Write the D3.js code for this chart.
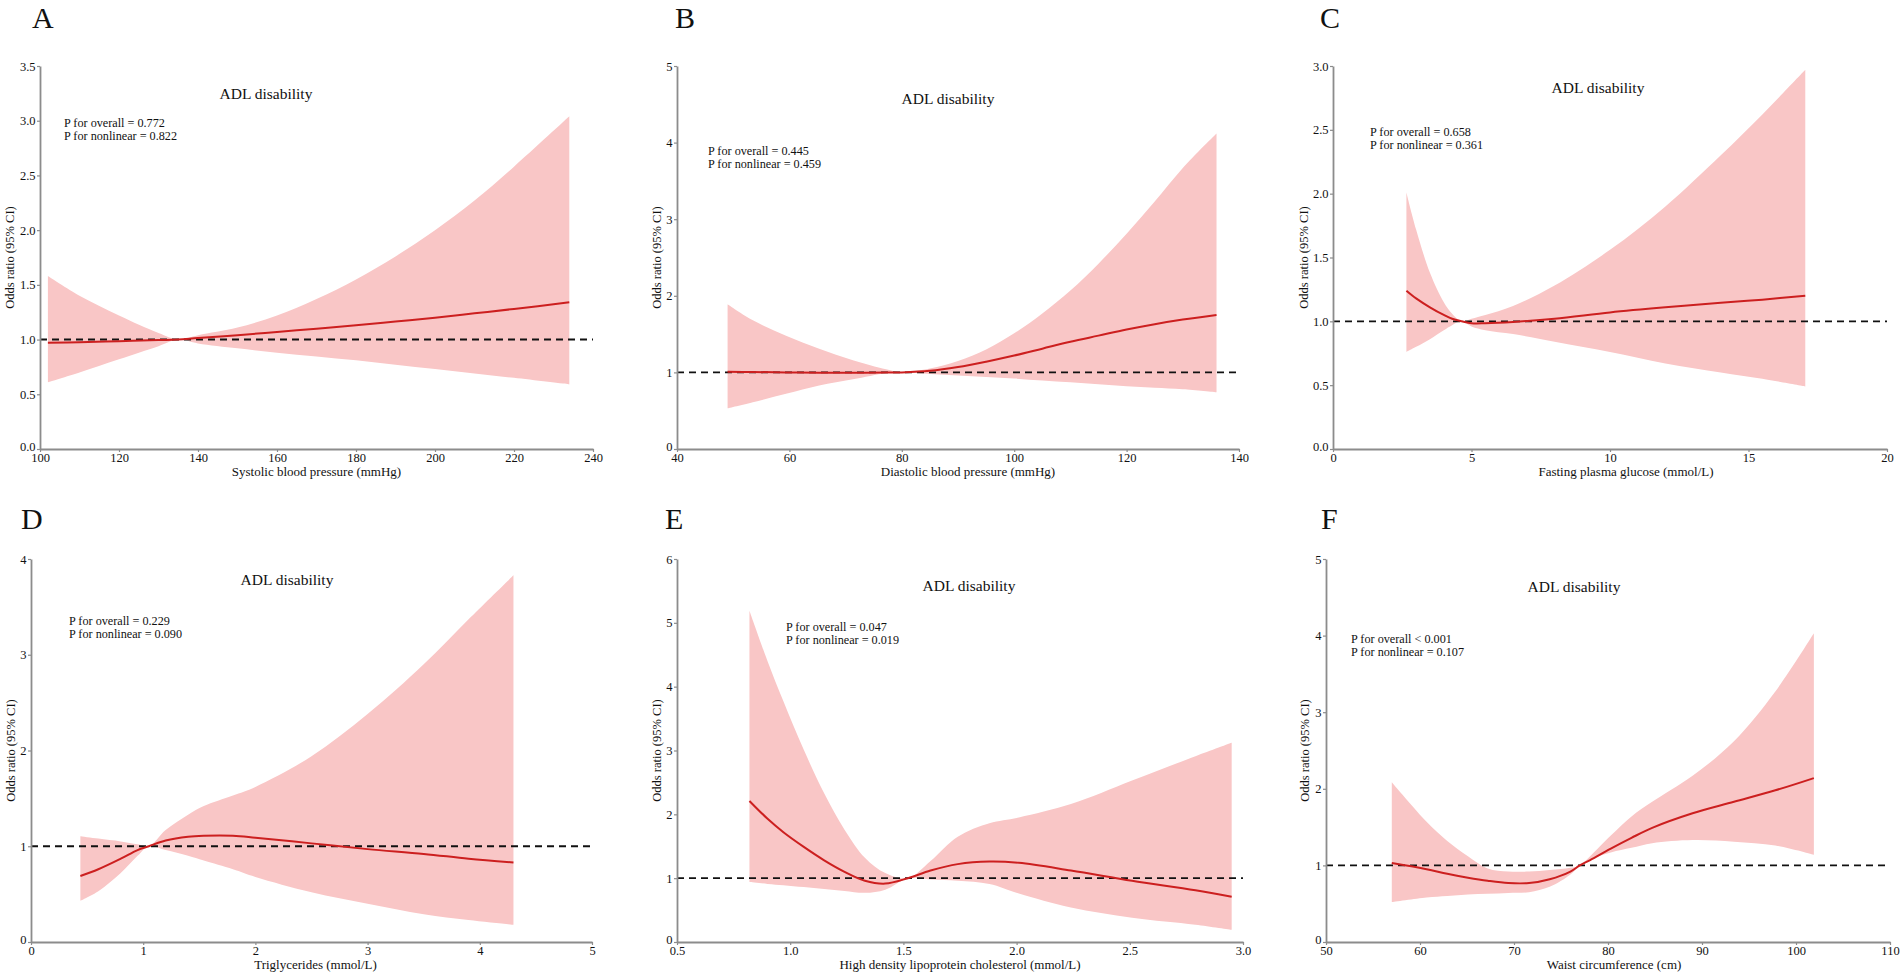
<!DOCTYPE html>
<html><head><meta charset="utf-8">
<script src="https://cdn.jsdelivr.net/npm/d3@7"></script>
<style>
body{margin:0;background:#fff}
svg{display:block}
text{font-family:"Liberation Serif","Times New Roman",serif;fill:#111}
</style>
</head><body>
<svg id="chart" width="1902" height="979"></svg>
<script>
// ---------- DATA ----------
const titleText = "ADL disability";
const yAxisLabel = "Odds ratio (95% CI)";

// Panel A – Systolic blood pressure
const xA  = [102, 110, 120, 130, 135, 140, 150, 160, 170, 180, 190, 200, 210, 220, 234];
const hiA = [1.58, 1.40, 1.22, 1.06, 1.0, 1.04, 1.11, 1.22, 1.37, 1.55, 1.76, 2.00, 2.27, 2.58, 3.04];
const loA = [0.61, 0.70, 0.82, 0.94, 1.0, 0.965, 0.92, 0.88, 0.845, 0.81, 0.77, 0.73, 0.69, 0.65, 0.59];
const orA = [0.97, 0.975, 0.985, 0.995, 1.0, 1.015, 1.04, 1.07, 1.10, 1.13, 1.165, 1.20, 1.24, 1.28, 1.34];
const xTicksA = [100, 120, 140, 160, 180, 200, 220, 240];
const yTicksA = [0, 0.5, 1.0, 1.5, 2.0, 2.5, 3.0, 3.5];

// Panel B – Diastolic blood pressure
const xB  = [49, 53.5, 59.4, 65.3, 71.3, 77.2, 80, 85, 90, 95, 100, 105, 110, 115, 120, 125, 130, 136];
const hiB = [1.89, 1.68, 1.48, 1.31, 1.16, 1.04, 1.0, 1.05, 1.15, 1.30, 1.51, 1.77, 2.07, 2.42, 2.81, 3.23, 3.67, 4.12];
const loB = [0.53, 0.61, 0.72, 0.83, 0.91, 0.99, 1.0, 0.98, 0.96, 0.94, 0.92, 0.895, 0.87, 0.845, 0.82, 0.80, 0.78, 0.74];
const orB = [1.01, 1.005, 1.0, 0.995, 0.995, 0.998, 1.0, 1.02, 1.07, 1.14, 1.22, 1.31, 1.40, 1.48, 1.56, 1.63, 1.69, 1.75];
const xTicksB = [40, 60, 80, 100, 120, 140];
const yTicksB = [0, 1, 2, 3, 4, 5];

// Panel C – Fasting plasma glucose
const xC  = [2.65, 3.0, 3.5, 4.0, 4.3, 4.65, 5.0, 5.5, 6.5, 8, 10, 12, 14, 15.5, 17.05];
const hiC = [2.01, 1.72, 1.38, 1.15, 1.06, 1.0, 1.02, 1.05, 1.12, 1.28, 1.56, 1.90, 2.30, 2.62, 2.97];
const loC = [0.76, 0.80, 0.86, 0.93, 0.97, 1.0, 0.96, 0.93, 0.90, 0.84, 0.76, 0.67, 0.60, 0.55, 0.49];
const orC = [1.24, 1.18, 1.11, 1.05, 1.02, 1.0, 0.985, 0.985, 0.995, 1.02, 1.07, 1.11, 1.145, 1.17, 1.20];
const xTicksC = [0, 5, 10, 15, 20];
const yTicksC = [0, 0.5, 1.0, 1.5, 2.0, 2.5, 3.0];

// Panel D – Triglycerides
const xD  = [0.44, 0.6, 0.8, 0.95, 1.05, 1.2, 1.4, 1.54, 1.8, 2.0, 2.5, 3.0, 3.5, 3.9, 4.3];
const hiD = [1.105, 1.08, 1.05, 1.02, 1.0, 1.17, 1.33, 1.42, 1.53, 1.62, 1.94, 2.38, 2.90, 3.37, 3.83];
const loD = [0.43, 0.53, 0.72, 0.90, 1.0, 0.96, 0.90, 0.85, 0.76, 0.68, 0.52, 0.40, 0.29, 0.23, 0.18];
const orD = [0.69, 0.76, 0.87, 0.96, 1.0, 1.06, 1.10, 1.11, 1.11, 1.09, 1.03, 0.97, 0.92, 0.87, 0.83];
const xTicksD = [0, 1, 2, 3, 4, 5];
const yTicksD = [0, 1, 2, 3, 4];

// Panel E – HDL cholesterol
const xE  = [0.82, 0.9, 0.97, 1.06, 1.15, 1.24, 1.33, 1.42, 1.52, 1.62, 1.74, 1.88, 2.01, 2.24, 2.51, 2.79, 2.95];
const hiE = [5.19, 4.40, 3.77, 3.01, 2.33, 1.76, 1.32, 1.08, 1.0, 1.27, 1.65, 1.86, 1.95, 2.16, 2.53, 2.91, 3.12];
const loE = [0.94, 0.91, 0.89, 0.86, 0.83, 0.80, 0.77, 0.82, 1.0, 0.98, 0.96, 0.91, 0.76, 0.54, 0.38, 0.27, 0.19];
const orE = [2.21, 1.93, 1.72, 1.49, 1.28, 1.10, 0.96, 0.915, 1.0, 1.12, 1.22, 1.26, 1.24, 1.12, 0.96, 0.81, 0.71];
const xTicksE = [0.5, 1.0, 1.5, 2.0, 2.5, 3.0];
const yTicksE = [0, 1, 2, 3, 4, 5, 6];

// Panel F – Waist circumference
const xF  = [57, 60.7, 62.9, 65.1, 67.2, 69.4, 71.6, 73.8, 76, 77, 78.1, 80.3, 82.5, 84.7, 89, 93.4, 97.8, 101.9];
const hiF = [2.085, 1.57, 1.32, 1.12, 0.96, 0.92, 0.92, 0.94, 0.97, 1.0, 1.12, 1.39, 1.64, 1.83, 2.17, 2.62, 3.27, 4.03];
const loF = [0.52, 0.58, 0.60, 0.62, 0.63, 0.64, 0.65, 0.72, 0.88, 1.0, 1.08, 1.17, 1.23, 1.29, 1.33, 1.31, 1.26, 1.14];
const orF = [1.03, 0.95, 0.89, 0.84, 0.80, 0.77, 0.77, 0.82, 0.92, 1.0, 1.07, 1.22, 1.36, 1.49, 1.68, 1.83, 1.98, 2.14];
const xTicksF = [50, 60, 70, 80, 90, 100, 110];
const yTicksF = [0, 1, 2, 3, 4, 5];

const panelLetters = ["A", "B", "C", "D", "E", "F"];
const xTitles = [
  "Systolic blood pressure (mmHg)",
  "Diastolic blood pressure (mmHg)",
  "Fasting plasma glucose (mmol/L)",
  "Triglycerides (mmol/L)",
  "High density lipoprotein cholesterol (mmol/L)",
  "Waist circumference (cm)"
];
const pOverall   = ["P for overall = 0.772", "P for overall = 0.445", "P for overall = 0.658",
                    "P for overall = 0.229", "P for overall = 0.047", "P for overall < 0.001"];
const pNonlinear = ["P for nonlinear = 0.822", "P for nonlinear = 0.459", "P for nonlinear = 0.361",
                    "P for nonlinear = 0.090", "P for nonlinear = 0.019", "P for nonlinear = 0.107"];

// ---------- LAYOUT (positions / styles) ----------
const layout = [
  {x0:40,   x1:593,  y0:66,  y1:449, xd:[100,240], yd:[0,3.5], yf:".1f", xf:"d",   letter:[32,28],   title:[266,99],  p:[64,127],   ytOff:30, xtDx:0},
  {x0:677,  x1:1239, y0:66,  y1:449, xd:[40,140],  yd:[0,5],   yf:"d",   xf:"d",   letter:[675,28],  title:[948,104], p:[708,155],  ytOff:20, xtDx:10},
  {x0:1333, x1:1887, y0:66,  y1:449, xd:[0,20],    yd:[0,3],   yf:".1f", xf:"d",   letter:[1320,28], title:[1598,93], p:[1370,136], ytOff:29, xtDx:16},
  {x0:31,   x1:592,  y0:559, y1:942, xd:[0,5],     yd:[0,4],   yf:"d",   xf:"d",   letter:[21,529],  title:[287,585], p:[69,625],   ytOff:20, xtDx:4},
  {x0:677,  x1:1243, y0:559, y1:942, xd:[0.5,3],   yd:[0,6],   yf:"d",   xf:".1f", letter:[665,529], title:[969,591], p:[786,631],  ytOff:20, xtDx:0},
  {x0:1326, x1:1890, y0:559, y1:942, xd:[50,110],  yd:[0,5],   yf:"d",   xf:"d",   letter:[1321,529],title:[1574,592],p:[1351,643], ytOff:21, xtDx:6}
];

const series = [
  {x:xA, hi:hiA, lo:loA, or:orA, xt:xTicksA, yt:yTicksA},
  {x:xB, hi:hiB, lo:loB, or:orB, xt:xTicksB, yt:yTicksB},
  {x:xC, hi:hiC, lo:loC, or:orC, xt:xTicksC, yt:yTicksC},
  {x:xD, hi:hiD, lo:loD, or:orD, xt:xTicksD, yt:yTicksD},
  {x:xE, hi:hiE, lo:loE, or:orE, xt:xTicksE, yt:yTicksE},
  {x:xF, hi:hiF, lo:loF, or:orF, xt:xTicksF, yt:yTicksF}
];

const AXIS_COL = "#8c8c8c", BAND_COL = "#f9c6c6", LINE_COL = "#cc1f1f";
const CURVE = d3.curveCatmullRom.alpha(0.5);

const svg = d3.select("#chart");

series.forEach((s, i) => {
  const L = layout[i];
  const x = d3.scaleLinear().domain(L.xd).range([L.x0, L.x1]);
  const y = d3.scaleLinear().domain(L.yd).range([L.y1, L.y0]);
  const g = svg.append("g");
  const rows = s.x.map((v, k) => ({x: v, hi: s.hi[k], lo: s.lo[k], or: s.or[k]}));

  // band
  g.append("path").datum(rows)
    .attr("d", d3.area().x(d => x(d.x)).y0(d => y(d.lo)).y1(d => y(d.hi)).curve(CURVE))
    .attr("fill", BAND_COL).attr("stroke", "none");

  // reference line
  g.append("line")
    .attr("x1", x(L.xd[0])).attr("x2", x(L.xd[1]))
    .attr("y1", y(1)).attr("y2", y(1))
    .attr("stroke", "#111").attr("stroke-width", 1.9).attr("stroke-dasharray", "7,5");

  // OR line
  g.append("path").datum(rows)
    .attr("d", d3.line().x(d => x(d.x)).y(d => y(d.or)).curve(CURVE))
    .attr("fill", "none").attr("stroke", LINE_COL).attr("stroke-width", 2);

  // axes
  const ax = g.append("g").attr("transform", `translate(0,${L.y1})`)
    .call(d3.axisBottom(x).tickValues(s.xt).tickFormat(d3.format(L.xf)).tickSize(3).tickSizeOuter(0).tickPadding(1.5));
  const ay = g.append("g").attr("transform", `translate(${L.x0},0)`)
    .call(d3.axisLeft(y).tickValues(s.yt).tickFormat(d3.format(L.yf)).tickSize(3).tickSizeOuter(0).tickPadding(1.5));
  [ax, ay].forEach(a => {
    a.select(".domain").attr("stroke", AXIS_COL).attr("stroke-width", 1.8);
    a.selectAll(".tick line").attr("stroke", AXIS_COL).attr("stroke-width", 1.2);
    a.selectAll(".tick text").attr("font-family", "Liberation Serif").attr("font-size", 12.5).attr("fill", "#222");
  });
  // lift the zero label on the y axis slightly so it clears the first x label
  ay.selectAll(".tick text").filter(d => d === 0).attr("dy", "0.1em");

  // x title
  g.append("text").attr("x", (L.x0 + L.x1) / 2 + L.xtDx).attr("y", L.y1 + 27)
    .attr("text-anchor", "middle").attr("font-size", 13).text(xTitles[i]);
  // y title
  g.append("text")
    .attr("transform", `translate(${L.x0 - L.ytOff},${(L.y0 + L.y1) / 2}) rotate(-90)`)
    .attr("text-anchor", "middle").attr("dy", "0.35em").attr("font-size", 12.5).text(yAxisLabel);
  // panel letter
  g.append("text").attr("x", L.letter[0]).attr("y", L.letter[1])
    .attr("font-size", 30).text(panelLetters[i]);
  // title
  g.append("text").attr("x", L.title[0]).attr("y", L.title[1])
    .attr("text-anchor", "middle").attr("font-size", 15.5).text(titleText);
  // p values
  g.append("text").attr("x", L.p[0]).attr("y", L.p[1]).attr("font-size", 12.2).text(pOverall[i]);
  g.append("text").attr("x", L.p[0]).attr("y", L.p[1] + 13).attr("font-size", 12.2).text(pNonlinear[i]);
});
</script>
</body></html>
